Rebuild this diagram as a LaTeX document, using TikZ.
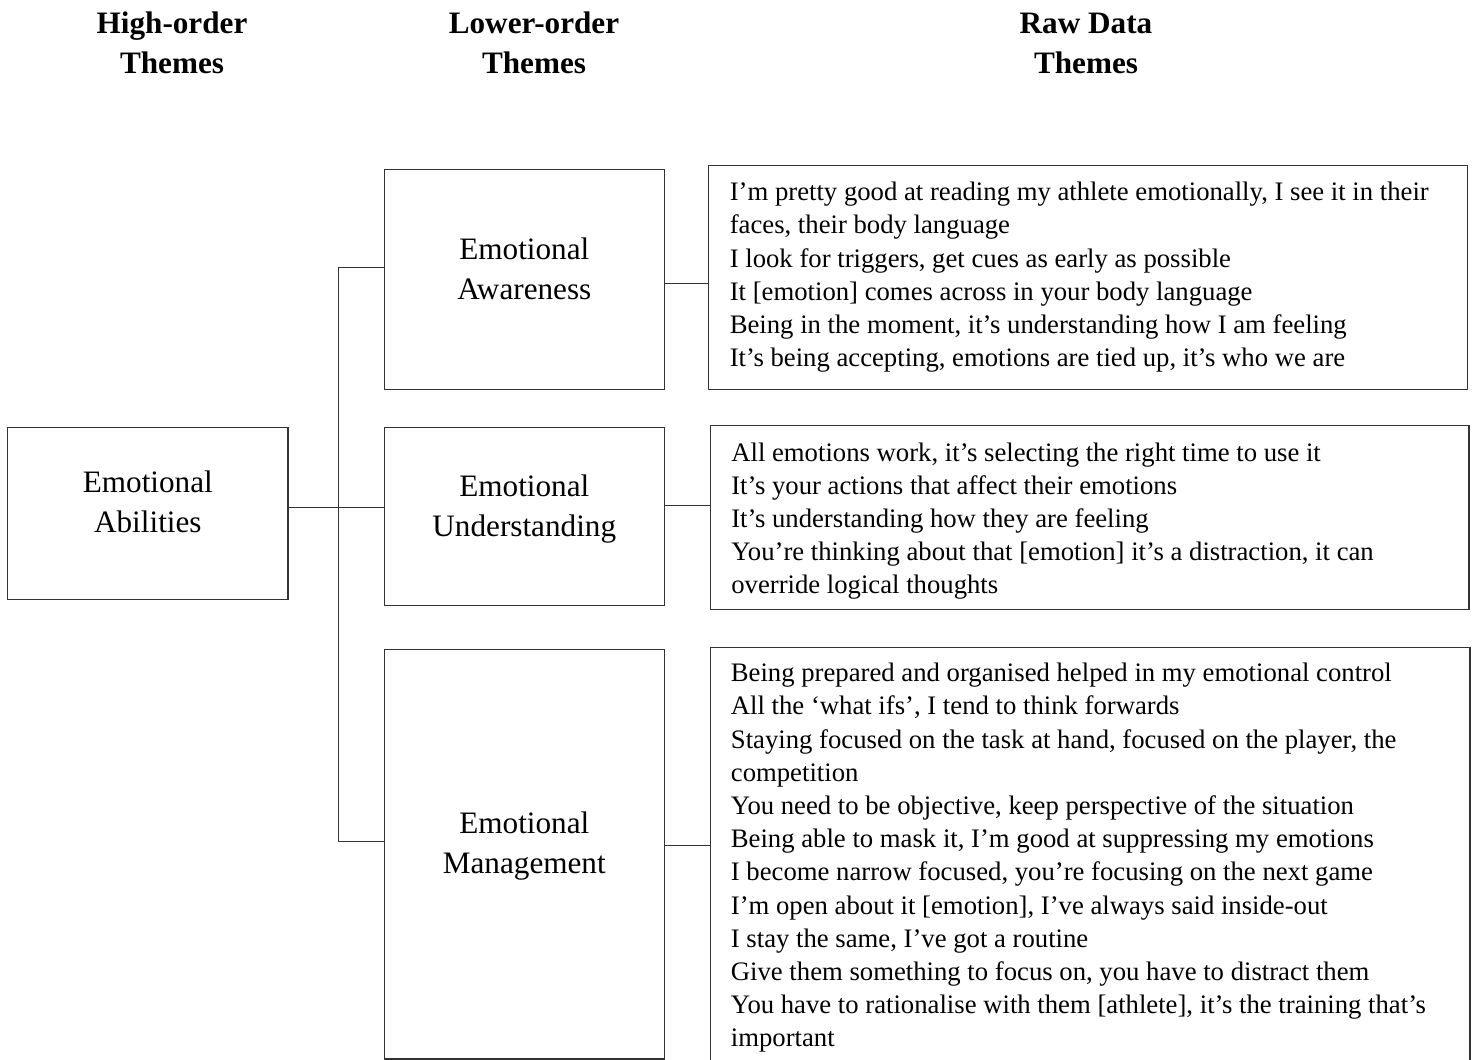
\documentclass[tikz,border=0pt]{standalone}
\usepackage{fontspec}
\setmainfont{Liberation Serif}
\newcommand{\headfont}{\bfseries\fontsize{31.2}{40}\selectfont}
\newcommand{\lblfont}{\fontsize{31.2}{40}\selectfont}
\newcommand{\rawfont}{\fontsize{26.7}{33.2}\selectfont}
\tikzset{
  box/.style={draw=black!80, line width=1.3pt, rectangle, outer sep=0pt, inner sep=0pt, anchor=north west},
  conn/.style={draw=black!80, line width=1.3pt},
  head/.style={anchor=base, inner sep=0pt, font=\headfont},
  lbl/.style={anchor=base, inner sep=0pt, font=\lblfont},
  raw/.style={anchor=base west, inner sep=0pt, font=\rawfont},
}
\begin{document}
\begin{tikzpicture}[x=1pt,y=-1pt]
\useasboundingbox (0,0) rectangle (1476,1060);

% headings
\node[head] (h1) at (172,33.5) {\parbox[t]{300pt}{\centering\headfont High-order\\Themes}};
\node[head] (h2) at (534,33.5) {\parbox[t]{300pt}{\centering\headfont Lower-order\\Themes}};
\node[head] (h3) at (1086,33.5) {\parbox[t]{300pt}{\centering\headfont Raw Data\\Themes}};

% boxes
\node[box, minimum width=280.3, minimum height=171.6] (hb) at (7.7,427.7) {};
\node[box, minimum width=280, minimum height=219.6] (aw) at (384.3,169.7) {};
\node[box, minimum width=280, minimum height=177.6] (un) at (384.3,427.7) {};
\node[box, minimum width=280, minimum height=409.3] (mg) at (384.3,649.7) {};
\node[box, minimum width=759, minimum height=223.6] (r1) at (708.7,165.7) {};
\node[box, minimum width=758.7, minimum height=183.6] (r2) at (710.3,425.7) {};
\node[box, draw=none, minimum width=759.7, minimum height=412.3] (r3) at (710.3,647.7) {};
\draw[conn] (r3.south west) -- (r3.north west) -- (r3.north east) -- (r3.south east);

% box labels
\node[lbl] (hbt) at ([yshift=-64.6pt]hb.north) {\parbox[t]{270pt}{\centering\lblfont Emotional\\Abilities}};
\node[lbl] (awt) at ([yshift=-89.6pt]aw.north) {\parbox[t]{270pt}{\centering\lblfont Emotional\\Awareness}};
\node[lbl] (unt) at ([yshift=-68.3pt]un.north) {\parbox[t]{270pt}{\centering\lblfont Emotional\\Understanding}};
\node[lbl] (mgt) at ([yshift=-183.6pt]mg.north) {\parbox[t]{270pt}{\centering\lblfont Emotional\\Management}};

% raw data texts
\node[raw] (r1t) at ([xshift=20.9pt,yshift=-35pt]r1.north west) {\parbox[t]{740pt}{\rawfont\raggedright
I’m pretty good at reading my athlete emotionally, I see it in their\\
faces, their body language\\
I look for triggers, get cues as early as possible\\
It [emotion] comes across in your body language\\
Being in the moment, it’s understanding how I am feeling\\
It’s being accepting, emotions are tied up, it’s who we are}};

\node[raw] (r2t) at ([xshift=20.8pt,yshift=-35.3pt]r2.north west) {\parbox[t]{740pt}{\rawfont\raggedright
All emotions work, it’s selecting the right time to use it\\
It’s your actions that affect their emotions\\
It’s understanding how they are feeling\\
You’re thinking about that [emotion] it’s a distraction, it can\\
override logical thoughts}};

\node[raw] (r3t) at ([xshift=20.4pt,yshift=-34pt]r3.north west) {\parbox[t]{740pt}{\rawfont\raggedright
Being prepared and organised helped in my emotional control\\
All the ‘what ifs’, I tend to think forwards\\
Staying focused on the task at hand, focused on the player, the\\
competition\\
You need to be objective, keep perspective of the situation\\
Being able to mask it, I’m good at suppressing my emotions\\
I become narrow focused, you’re focusing on the next game\\
I’m open about it [emotion], I’ve always said inside-out\\
I stay the same, I’ve got a routine\\
Give them something to focus on, you have to distract them\\
You have to rationalise with them [athlete], it’s the training that’s\\
important}};

% tree connectors
\coordinate (t1) at (338.3,267.7);
\coordinate (t2) at (338.3,507.7);
\coordinate (t3) at (338.3,841.7);
\draw[conn] (t1) -- (t3);
\draw[conn] (t1) -- (aw.west |- t1);
\draw[conn] (t2) -- (un.west |- t2);
\draw[conn] (t3) -- (mg.west |- t3);
\draw[conn] (hb.east |- t2) -- (t2);

% connectors to raw data
\coordinate (c1) at (686,283.3);
\coordinate (c2) at (687,505.7);
\coordinate (c3) at (687,845.7);
\draw[conn] (aw.east |- c1) -- (r1.west |- c1);
\draw[conn] (un.east |- c2) -- (r2.west |- c2);
\draw[conn] (mg.east |- c3) -- (r3.west |- c3);
\end{tikzpicture}
\end{document}
